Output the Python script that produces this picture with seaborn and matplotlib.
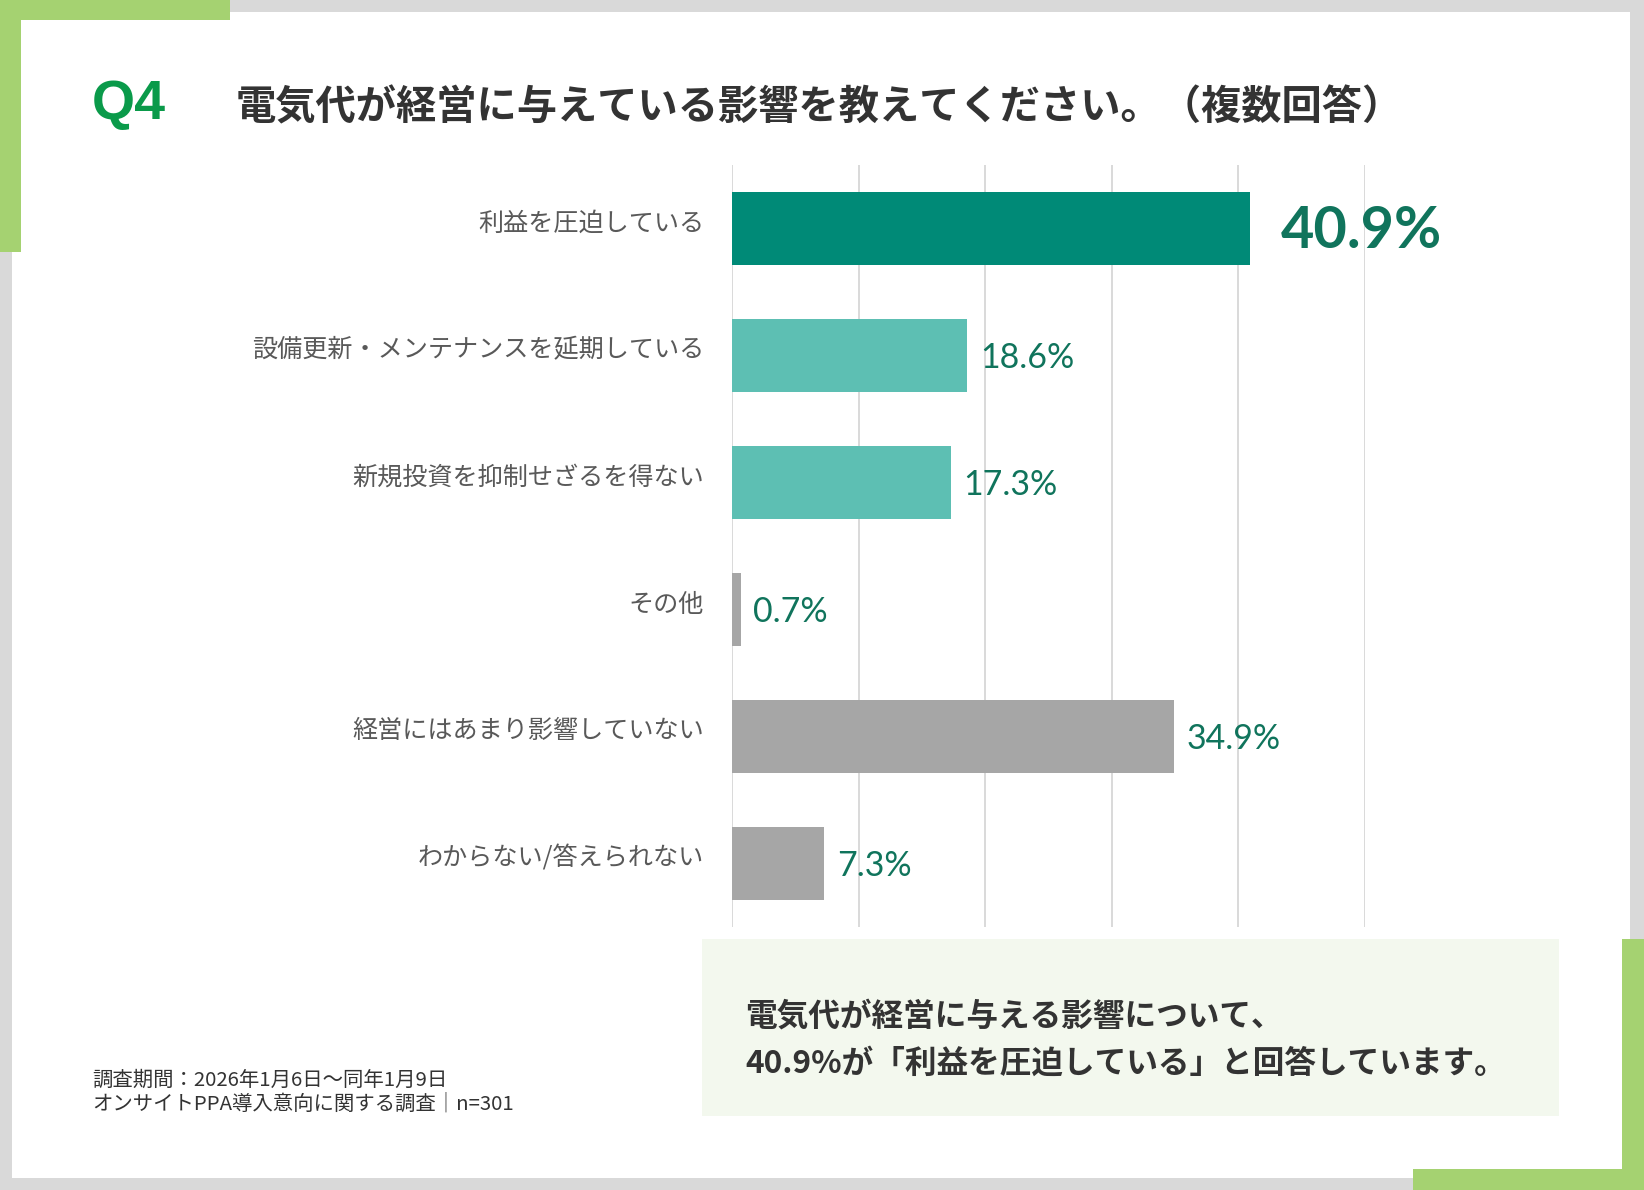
"""
Q4 電気代が経営に与えている影響 - horizontal bar chart
"""
import matplotlib
matplotlib.use("Agg")
import matplotlib.pyplot as plt
import matplotlib.transforms as mtransforms
from matplotlib.patches import Rectangle
import pandas as pd
import seaborn as sns


categories = [
    "利益を圧迫している",
    "設備更新・メンテナンスを延期している",
    "新規投資を抑制せざるを得ない",
    "その他",
    "経営にはあまり影響していない",
    "わからない/答えられない",
]
values = [40.9, 18.6, 17.3, 0.7, 34.9, 7.3]
bar_colors = ["#008a77", "#5dbfb3", "#5dbfb3", "#a6a6a6", "#a6a6a6", "#a6a6a6"]
grid_ticks = [0, 10, 20, 30, 40, 50]

title_q = "Q4"
title_text = "電気代が経営に与えている影響を教えてください。（複数回答）"
note_lines = ["電気代が経営に与える影響について、",
              "40.9%が「利益を圧迫している」と回答しています。"]
footer_lines = ["調査期間：2026年1月6日～同年1月9日",
                "オンサイトPPA導入意向に関する調査│n=301"]

W, H = 1644, 1190
JP = ["Noto Sans CJK JP", "DejaVu Sans"]
GREEN = "#a5d271"
LABEL_GREEN = "#10745c"

sns.set_theme(style="white")
plt.rcParams["font.family"] = JP


def px_rect(x0, y0, x1, y1, color, z=0):
    """Rectangle given in pixel coords (origin top-left)."""
    return Rectangle((x0 / W, 1 - y1 / H), (x1 - x0) / W, (y1 - y0) / H,
                     transform=fig.transFigure, facecolor=color,
                     edgecolor="none", zorder=z)


def px_text(x, y, s, **kw):
    fig.text(x / W, 1 - y / H, s, **kw)


fig = plt.figure(figsize=(W / 100, H / 100), dpi=100)
fig.patch.set_facecolor("#d9d9d9")

# card and corner decorations
fig.patches.append(px_rect(12, 12, 1630, 1178, "white", z=0))
fig.patches.append(px_rect(0, 0, 230, 20, GREEN, z=1))
fig.patches.append(px_rect(0, 0, 21, 252, GREEN, z=1))
fig.patches.append(px_rect(1413, 1169, 1644, 1190, GREEN, z=1))
fig.patches.append(px_rect(1622, 939, 1644, 1190, GREEN, z=1))
# summary box
fig.patches.append(px_rect(702, 939, 1559, 1116, "#f3f8ee", z=1))

# headings
px_text(92, 119, title_q, fontsize=40, fontweight="bold", color="#0a9a4a",
        family=["Liberation Sans", "DejaVu Sans"], va="baseline")
px_text(236, 119, title_text, fontsize=29, fontweight="bold",
        color="#333333", va="baseline")

# chart
ax = fig.add_axes([732 / W, 1 - 927 / H, (1365 - 732) / W, (927 - 165) / H])
ax.set_zorder(5)
ax.set_facecolor("none")
df = pd.DataFrame({"category": categories, "value": values})
sns.barplot(data=df, x="value", y="category", hue="category",
            palette=bar_colors, saturation=1, legend=False, width=0.58,
            linewidth=0, ax=ax, zorder=3)
ax.set_xlim(0, 50)
ax.set_ylim(len(categories) - 0.5, -0.5)
ax.set_xticks(grid_ticks)
ax.set_xticklabels([])
ax.grid(axis="x", color="#d9d9d9", linewidth=1.4, zorder=0)
ax.grid(axis="y", visible=False)
ax.set_axisbelow(True)
for s in ax.spines.values():
    s.set_visible(False)
ax.set_xlabel("")
ax.set_ylabel("")
ax.tick_params(axis="both", length=0)
ax.tick_params(axis="y", pad=20)
for lbl in ax.get_yticklabels():
    lbl.set_fontsize(18.1)
    lbl.set_color("#595959")
    lbl.set_transform(lbl.get_transform() +
                      mtransforms.ScaledTranslation(0, 8 / 100, fig.dpi_scale_trans))

for i, v in enumerate(values):
    if i == 0:
        ax.annotate(f"{v:.1f}%", (v, i), xytext=(22, -2), textcoords="offset points",
                    va="center", ha="left", fontsize=41.5, fontweight="bold",
                    color=LABEL_GREEN, family=["Lato", "DejaVu Sans"],
                    annotation_clip=False)
    else:
        ax.annotate(f"{v:.1f}%", (v, i), xytext=(9, -2), textcoords="offset points",
                    va="center", ha="left", fontsize=24.5, color=LABEL_GREEN,
                    family=["Lato", "DejaVu Sans"], annotation_clip=False)

# summary text
px_text(745, 1026, note_lines[0], fontsize=22.8, fontweight="bold",
        color="#333333", va="baseline")
px_text(745, 1073, note_lines[1], fontsize=22.8, fontweight="bold",
        color="#333333", va="baseline")

# footer
px_text(92, 1086, footer_lines[0], fontsize=14.7, color="#333333", va="baseline")
px_text(92, 1110, footer_lines[1], fontsize=14.7, color="#333333", va="baseline")

fig.savefig("out.png", dpi=100, facecolor=fig.get_facecolor())
